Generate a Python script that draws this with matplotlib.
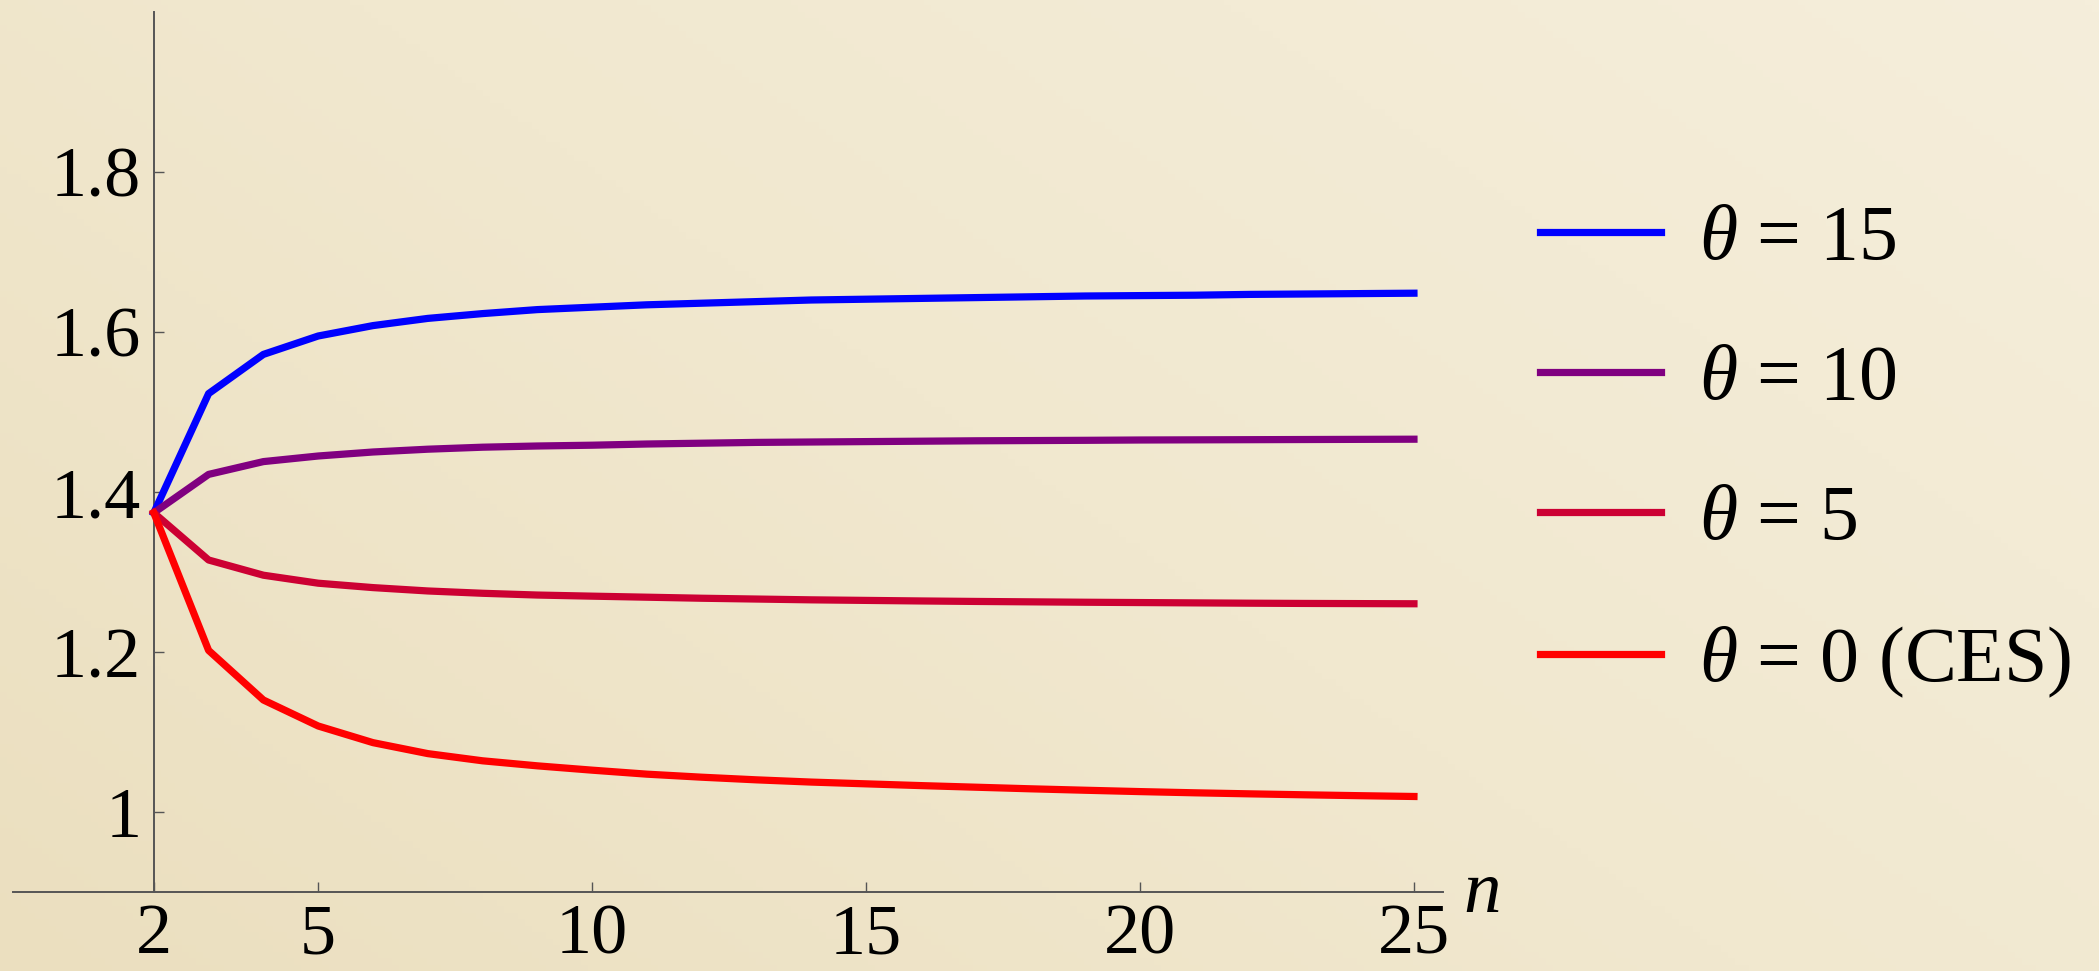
import numpy as np
import matplotlib
matplotlib.use("Agg")
import matplotlib.pyplot as plt
from matplotlib.colors import LinearSegmentedColormap

plt.rcParams['font.family'] = ['Liberation Serif', 'DejaVu Serif']
plt.rcParams['mathtext.fontset'] = 'custom'
plt.rcParams['mathtext.rm'] = 'Liberation Serif'
plt.rcParams['mathtext.it'] = 'Liberation Serif:italic'

# number of firms
n = list(range(2, 26))

theta15 = [1.374, 1.523, 1.572, 1.595, 1.608, 1.617, 1.623, 1.628, 1.631, 1.634,
           1.636, 1.638, 1.640, 1.641, 1.642, 1.643, 1.644, 1.645, 1.6455, 1.646,
           1.647, 1.6475, 1.648, 1.6485]
theta10 = [1.374, 1.422, 1.438, 1.445, 1.450, 1.4535, 1.456, 1.4575, 1.4585, 1.460,
           1.461, 1.462, 1.4625, 1.463, 1.4635, 1.464, 1.4643, 1.4646, 1.465, 1.4652,
           1.4654, 1.4656, 1.4658, 1.466]
theta5 = [1.374, 1.315, 1.296, 1.286, 1.2805, 1.2763, 1.2734, 1.2712, 1.2698, 1.2685,
          1.2672, 1.2662, 1.2652, 1.2645, 1.2638, 1.2632, 1.2627, 1.2622, 1.2618, 1.2614,
          1.2610, 1.2607, 1.2605, 1.2603]
theta0 = [1.374, 1.202, 1.140, 1.1075, 1.0867, 1.073, 1.064, 1.0577, 1.0523, 1.0473,
          1.0435, 1.0402, 1.0374, 1.0352, 1.0330, 1.031, 1.029, 1.0272, 1.0255, 1.0240,
          1.0227, 1.0215, 1.0204, 1.0194]

series = [theta15, theta10, theta5, theta0]
labels = [r'$\theta$ = 15', r'$\theta$ = 10', r'$\theta$ = 5', r'$\theta$ = 0 (CES)']
colors = ['#0000FF', '#800080', '#CC0033', '#FF0000']

xticks = [2, 5, 10, 15, 20, 25]
yticks = [1.0, 1.2, 1.4, 1.6, 1.8]
yticklabels = ['1', '1.2', '1.4', '1.6', '1.8']

W, H = 2099, 971
fig = plt.figure(figsize=(W / 100, H / 100), dpi=100)

# paper-like background
bg = fig.add_axes([0, 0, 1, 1], zorder=-10)
paper = LinearSegmentedColormap.from_list('paper', ['#EBDFBF', '#F1E8CF', '#F5EEDB'])
gx, gy = np.meshgrid(np.linspace(0, 1, 300), np.linspace(0, 1, 150))
bg.imshow(0.6 * gx + 0.4 * gy, cmap=paper, origin='lower', aspect='auto',
          extent=[0, 1, 0, 1])
bg.axis('off')

ax = fig.add_axes([13 / W, (H - 892) / H, (1443 - 13) / W, (892 - 12) / H])
ax.set_facecolor('none')

for y, lab, c in zip(series, labels, colors):
    ax.plot(n, y, color=c, lw=5.2, label=lab, zorder=3)

ax.set_xlim(-0.57, 25.53)
ax.set_ylim(0.9, 2.0)

axcol = '#555555'
ax.spines['left'].set_position(('data', 2))
ax.spines['top'].set_visible(False)
ax.spines['right'].set_visible(False)
for s in ('left', 'bottom'):
    ax.spines[s].set_color(axcol)
    ax.spines[s].set_linewidth(1.4)

fontsize = 52
ax.set_xticks(xticks)
ax.set_yticks(yticks)
ax.set_yticklabels(yticklabels)
ax.tick_params(axis='both', direction='in', length=7, width=1.0, color=axcol,
               labelsize=fontsize)
ax.tick_params(axis='x', pad=8)
ax.tick_params(axis='y', pad=9)

ax.text(1.014, -0.023, 'n', transform=ax.transAxes, fontsize=fontsize + 2,
        style='italic', ha='left', va='baseline')

fig.legend(loc='center left', bbox_to_anchor=(1540 / W, 1 - 452 / H),
           bbox_transform=fig.transFigure, frameon=False,
           prop={'size': fontsize + 4},
           borderpad=0, borderaxespad=0, handlelength=1.55, handletextpad=0.5,
           labelspacing=0.88)

plt.savefig('out.png', dpi=100)
